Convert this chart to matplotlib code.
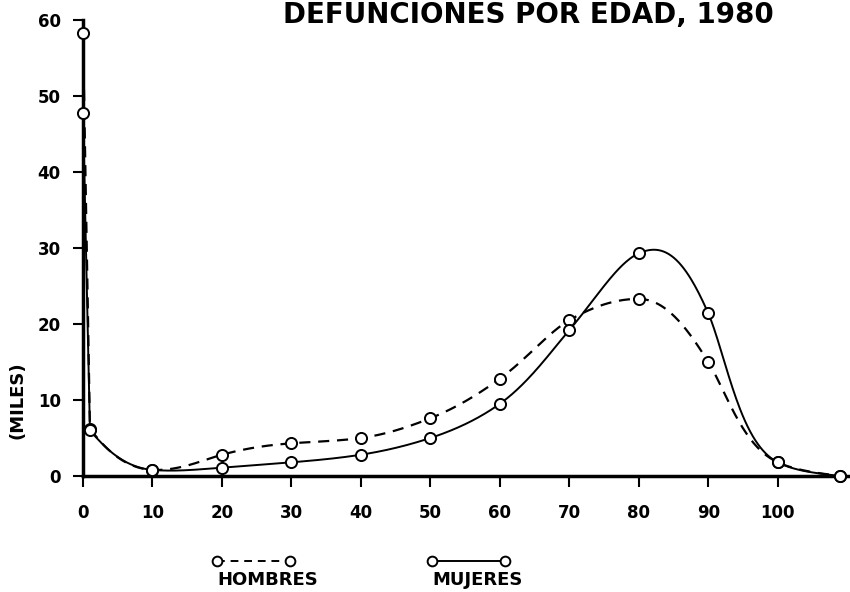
import numpy as np
import matplotlib
matplotlib.use('Agg')
import matplotlib.pyplot as plt
from matplotlib.lines import Line2D

# deaths by age, thousands
ages = [0, 1, 10, 20, 30, 40, 50, 60, 70, 80, 90, 100, 109]
hombres = [58.3, 6.2, 0.8, 2.8, 4.3, 5.0, 7.6, 12.8, 20.5, 23.3, 15.0, 1.8, 0.0]
mujeres = [47.8, 6.0, 0.8, 1.1, 1.8, 2.8, 5.0, 9.5, 19.2, 29.3, 21.4, 1.8, 0.0]
xticks = [0, 10, 20, 30, 40, 50, 60, 70, 80, 90, 100]
yticks = [0, 10, 20, 30, 40, 50, 60]


def natural_spline(x, y, xs):
    n = len(x); h = np.diff(x)
    A = np.zeros((n, n)); b = np.zeros(n)
    A[0, 0] = 1; A[-1, -1] = 1
    for i in range(1, n - 1):
        A[i, i - 1] = h[i - 1]
        A[i, i] = 2 * (h[i - 1] + h[i])
        A[i, i + 1] = h[i]
        b[i] = 3 * ((y[i + 1] - y[i]) / h[i] - (y[i] - y[i - 1]) / h[i - 1])
    c = np.linalg.solve(A, b)
    bb = (y[1:] - y[:-1]) / h - h * (2 * c[:-1] + c[1:]) / 3
    d = (c[1:] - c[:-1]) / (3 * h)
    k = np.clip(np.searchsorted(x, xs) - 1, 0, n - 2)
    t = xs - x[k]
    return y[k] + bb[k] * t + c[k] * t**2 + d[k] * t**3


def pchip(x, y, xs):
    n = len(x); h = np.diff(x); s = np.diff(y) / h
    d = np.zeros(n)
    d[0], d[-1] = s[0], s[-1]
    for k in range(1, n - 1):
        if s[k - 1] * s[k] > 0:
            w1 = 2 * h[k] + h[k - 1]
            w2 = h[k] + 2 * h[k - 1]
            d[k] = (w1 + w2) / (w1 / s[k - 1] + w2 / s[k])
    k = np.clip(np.searchsorted(x, xs) - 1, 0, n - 2)
    t = (xs - x[k]) / h[k]
    h00 = 2 * t**3 - 3 * t**2 + 1; h10 = t**3 - 2 * t**2 + t
    h01 = -2 * t**3 + 3 * t**2; h11 = t**3 - t**2
    return h00 * y[k] + h10 * h[k] * d[k] + h01 * y[k + 1] + h11 * h[k] * d[k + 1]


def smooth(x, y, off=2.0):
    # smooth curve in log space after the infant point, vertical drop at age 0
    x = np.asarray(x, float)
    ly = np.log(np.asarray(y, float) + off)
    xs = np.linspace(x[1], x[-1], 600)
    ls = 0.5 * (natural_spline(x[1:], ly[1:], xs) + pchip(x[1:], ly[1:], xs))
    ys = np.exp(ls) - off
    return np.r_[x[0], xs], np.r_[y[0], np.clip(ys, 0, None)]


fig = plt.figure(figsize=(8.5, 5.92), dpi=100)
ax = fig.add_axes([83 / 850, 1 - 476 / 592, 767 / 850, 456 / 592])

hx, hy = smooth(ages, hombres)
mx, my = smooth(ages, mujeres)
ax.plot(hx, hy, color='black', lw=1.6, ls=(0, (5, 3.5)), clip_on=False)
ax.plot(mx, my, color='black', lw=1.4, clip_on=False)
ax.plot(ages, hombres, 'o', ms=8, mfc='white', mec='black', mew=1.4, clip_on=False, zorder=5)
ax.plot(ages, mujeres, 'o', ms=8, mfc='white', mec='black', mew=1.4, clip_on=False, zorder=5)

ax.set_xlim(0, 110.4)
ax.set_ylim(0, 60)
ax.set_xticks(xticks)
ax.set_yticks(yticks)
ax.spines['top'].set_visible(False)
ax.spines['right'].set_visible(False)
ax.spines['left'].set_linewidth(2.5)
ax.spines['bottom'].set_linewidth(2.5)
ax.tick_params(axis='x', direction='out', length=8, width=1.5, pad=12, labelsize=12)
ax.tick_params(axis='y', direction='out', length=7, width=1.5, pad=9, labelsize=12)
for lab in ax.get_xticklabels() + ax.get_yticklabels():
    lab.set_fontweight('bold')

fig.text(18 / 850, 1 - 400 / 592, '(MILES)', rotation=90, ha='center', va='center',
         fontsize=13, fontweight='bold')
fig.text(528 / 850, 1 - 15 / 592, 'DEFUNCIONES POR EDAD, 1980', ha='center', va='center',
         fontsize=20, fontweight='bold')

# legend drawn below the axes
for x0, x1, style, label in [(217, 290, (0, (4, 3)), 'HOMBRES'), (432, 505, '-', 'MUJERES')]:
    yy = 1 - 561 / 592
    fig.add_artist(Line2D([x0 / 850, x1 / 850], [yy, yy], color='black', lw=1.4, ls=style))
    fig.add_artist(Line2D([x0 / 850, x1 / 850], [yy, yy], ls='none', marker='o', ms=7,
                          mfc='white', mec='black', mew=1.4))
    fig.text(x0 / 850, 1 - 580 / 592, label, ha='left', va='center', fontsize=13, fontweight='bold')

fig.savefig('out.png', dpi=100)
